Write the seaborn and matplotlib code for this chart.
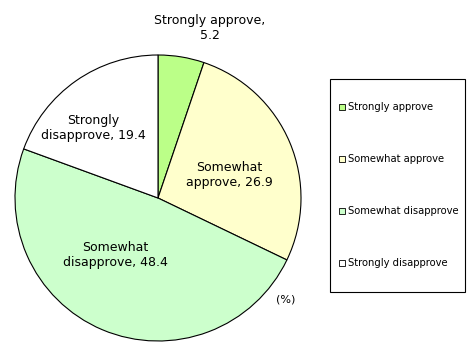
import matplotlib
matplotlib.use("Agg")
import matplotlib.pyplot as plt
import matplotlib.patches as mpatches
import seaborn as sns

categories = ["Strongly approve", "Somewhat approve", "Somewhat disapprove", "Strongly disapprove"]
values = [5.2, 26.9, 48.4, 19.4]
colors = ["#BBFF88", "#FFFFCC", "#CCFFCC", "#FFFFFF"]
unit_label = "(%)"

sns.set_theme(style="white")
plt.rcParams['font.family'] = ['DejaVu Sans']
plt.rcParams['text.color'] = 'black'
FS = 9.0
LFS = 7.2

W, H = 477, 354
fig = plt.figure(figsize=(W / 100, H / 100), dpi=100)
cx, cy, r = 158, 198, 143
ax = fig.add_axes([(cx - r) / W, 1 - (cy + r) / H, 2 * r / W, 2 * r / H])

wedges, _ = ax.pie(values, colors=colors, startangle=90, counterclock=False,
                   wedgeprops=dict(edgecolor="black", linewidth=0.8))
ax.set_xlim(-1, 1)
ax.set_ylim(-1, 1)
ax.set_aspect("equal")
ax.axis("off")

label_pos = [(0.36, 1.19), (0.50, 0.16), (-0.30, -0.40), (-0.45, 0.49)]
label_txt = ["Strongly approve,\n{}", "Somewhat\napprove, {}", "Somewhat\ndisapprove, {}", "Strongly\ndisapprove, {}"]
for (x, y), t, v in zip(label_pos, label_txt, values):
    ax.text(x, y, t.format(v), ha="center", va="center", fontsize=FS,
            linespacing=1.25, clip_on=False, color="black")
ax.text(0.89, -0.71, unit_label, ha="center", va="center", fontsize=FS - 1,
        clip_on=False, color="black")

# legend frame
fig.patches.append(mpatches.Rectangle((330 / W, 1 - 292 / H), 135 / W, (292 - 79) / H,
                                      transform=fig.transFigure, fill=False,
                                      edgecolor="black", linewidth=0.8))

leg = fig.legend(wedges, categories, loc="upper left",
                 bbox_to_anchor=(339 / W, 1 - 102.5 / H),
                 fontsize=LFS, frameon=False,
                 labelspacing=4.2, borderpad=0, handlelength=0.6, handleheight=0.6,
                 handletextpad=0.35, borderaxespad=0, labelcolor="black")
for h in leg.legend_handles:
    h.set_edgecolor("black")
    h.set_linewidth(0.6)

fig.savefig("out.png", dpi=100)
